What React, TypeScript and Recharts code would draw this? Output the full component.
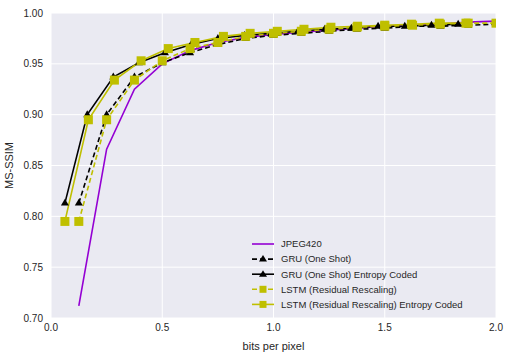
import React from 'react';
import { LineChart, Line, XAxis, YAxis, CartesianGrid } from 'recharts';

const bpp = [0.125, 0.25, 0.375, 0.5, 0.625, 0.75, 0.875, 1.0, 1.125, 1.25, 1.375, 1.5, 1.625, 1.75, 1.875, 2.0];
const jpegSsim = [0.712, 0.866, 0.925, 0.95, 0.963, 0.971, 0.976, 0.979, 0.981, 0.983, 0.985, 0.987, 0.988, 0.989, 0.991, 0.992];
const gruSsim = [0.813, 0.9, 0.937, 0.951, 0.961, 0.969, 0.975, 0.978, 0.98, 0.982, 0.984, 0.985, 0.987, 0.987, 0.988, 0.989];
const gruEntBpp = [0.0625, 0.163, 0.28, 0.395, 0.512, 0.63, 0.75, 0.87, 0.99, 1.11, 1.23, 1.35, 1.47, 1.59, 1.71, 1.83];
const lstmSsim = [0.795, 0.895, 0.934, 0.953, 0.965, 0.971, 0.977, 0.98, 0.982, 0.984, 0.986, 0.987, 0.988, 0.989, 0.99, 0.99];
const lstmEntBpp = [0.0625, 0.168, 0.285, 0.405, 0.527, 0.647, 0.775, 0.895, 1.017, 1.137, 1.258, 1.378, 1.5, 1.62, 1.745, 1.865];
const xTicks = [0, 0.5, 1.0, 1.5, 2.0];
const yTicks = [0.7, 0.75, 0.8, 0.85, 0.9, 0.95, 1.0];

const jpeg = bpp.map((x, i) => ({ x, y: jpegSsim[i] }));
const gru = bpp.map((x, i) => ({ x, y: gruSsim[i] }));
const gruEnt = gruEntBpp.map((x, i) => ({ x, y: gruSsim[i] }));
const lstm = bpp.map((x, i) => ({ x, y: lstmSsim[i] }));
const lstmEnt = lstmEntBpp.map((x, i) => ({ x, y: lstmSsim[i] }));

const PURPLE = '#9400D3';
const YELLOW = '#BFBF00';
const BLACK = '#000000';
const TEXT = '#262626';
const FONT = '"Liberation Sans", Arial, sans-serif';

const triangle = (name: string, size = 8) => (props: any) => {
  const { cx, cy, index } = props;
  if (cx == null || cy == null) return <g key={`${name}-${index}`} />;
  const h = size * 0.87;
  const pts = `${cx},${cy - h / 2 - 1} ${cx - size / 2},${cy + h / 2 - 1} ${cx + size / 2},${cy + h / 2 - 1}`;
  return <polygon key={`${name}-${index}`} points={pts} fill={BLACK} stroke="none" />;
};

const square = (name: string, size = 9) => (props: any) => {
  const { cx, cy, index } = props;
  if (cx == null || cy == null) return <g key={`${name}-${index}`} />;
  return <rect key={`${name}-${index}`} x={cx - size / 2} y={cy - size / 2} width={size} height={size} fill={YELLOW} stroke="none" />;
};

const legendItems = [
  { label: 'JPEG420', color: PURPLE, dash: undefined as string | undefined, marker: 'none' },
  { label: 'GRU (One Shot)', color: BLACK, dash: '5 3', marker: 'tri' },
  { label: 'GRU (One Shot) Entropy Coded', color: BLACK, dash: undefined, marker: 'tri' },
  { label: 'LSTM (Residual Rescaling)', color: YELLOW, dash: '5 3', marker: 'sq' },
  { label: 'LSTM (Residual Rescaling) Entropy Coded', color: YELLOW, dash: undefined, marker: 'sq' },
];

const LegendBox = () => (
  <svg width={250} height={80} style={{ position: 'absolute', left: 248, top: 234, overflow: 'visible' }}>
    {legendItems.map((it, i) => {
      const y = 10 + i * 15.1;
      return (
        <g key={it.label}>
          <line x1={4} x2={26} y1={y} y2={y} stroke={it.color} strokeWidth={1.6} strokeDasharray={it.dash} />
          {it.marker === 'tri' && (
            <polygon points={`15,${y - 4} 11,${y + 2.5} 19,${y + 2.5}`} fill={BLACK} />
          )}
          {it.marker === 'sq' && <rect x={11.5} y={y - 3.5} width={7} height={7} fill={YELLOW} />}
          <text x={33} y={y} dy="0.35em" fontSize={9.5} fill={TEXT} fontFamily={FONT}>
            {it.label}
          </text>
        </g>
      );
    })}
  </svg>
);

export default function App() {
  return (
    <div style={{ position: 'absolute', left: 0, top: 0, width: 510, height: 358, background: '#fff' }}>
      <LineChart width={510} height={358} margin={{ top: 13, right: 14, left: 0, bottom: 0 }}>
        <CartesianGrid fill="#EAEAF2" stroke="#FFFFFF" strokeWidth={1} horizontalValues={yTicks} verticalValues={xTicks} />
        <XAxis
          type="number"
          dataKey="x"
          domain={[0, 2]}
          ticks={xTicks}
          allowDataOverflow
          tickFormatter={(v: number) => v.toFixed(1)}
          axisLine={false}
          tickLine={false}
          tickSize={4}
          tick={{ fontSize: 10, fill: TEXT, fontFamily: FONT }}
          height={40}
          label={{ value: 'bits per pixel', position: 'insideBottom', offset: 8, fontSize: 11, fill: TEXT, fontFamily: FONT }}
        />
        <YAxis
          type="number"
          domain={[0.7, 1.0]}
          ticks={yTicks}
          allowDataOverflow
          tickFormatter={(v: number) => v.toFixed(2)}
          axisLine={false}
          tickLine={false}
          tickSize={6}
          tick={{ fontSize: 10, fill: TEXT, fontFamily: FONT }}
          width={51}
          label={{ value: 'MS-SSIM', angle: -90, position: 'insideLeft', offset: 9, fontSize: 11, fill: TEXT, fontFamily: FONT, style: { textAnchor: 'middle' } }}
        />
        <Line data={jpeg} dataKey="y" name="JPEG420" stroke={PURPLE} strokeWidth={1.6} dot={false} isAnimationActive={false} />
        <Line data={gru} dataKey="y" name="GRU (One Shot)" stroke={BLACK} strokeWidth={1.6} strokeDasharray="5 3" dot={triangle('gru')} activeDot={false} isAnimationActive={false} />
        <Line data={gruEnt} dataKey="y" name="GRU (One Shot) Entropy Coded" stroke={BLACK} strokeWidth={1.6} dot={triangle('gruEnt')} activeDot={false} isAnimationActive={false} />
        <Line data={lstm} dataKey="y" name="LSTM (Residual Rescaling)" stroke={YELLOW} strokeWidth={1.6} strokeDasharray="5 3" dot={square('lstm')} activeDot={false} isAnimationActive={false} />
        <Line data={lstmEnt} dataKey="y" name="LSTM (Residual Rescaling) Entropy Coded" stroke={YELLOW} strokeWidth={1.6} dot={square('lstmEnt')} activeDot={false} isAnimationActive={false} />
      </LineChart>
      <LegendBox />
    </div>
  );
}
